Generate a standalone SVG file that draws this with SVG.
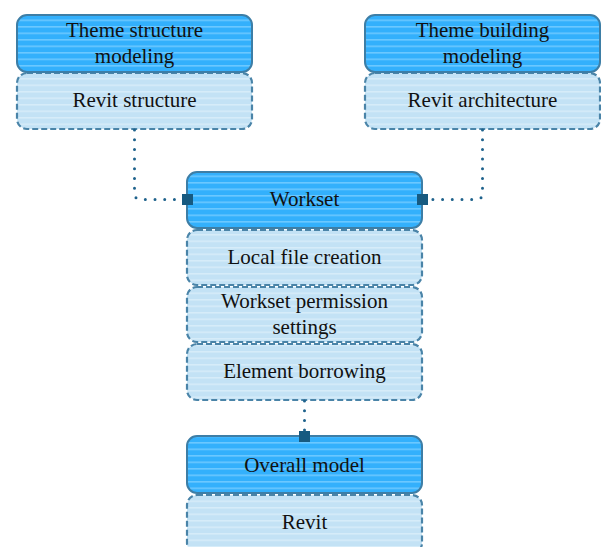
<svg xmlns="http://www.w3.org/2000/svg" width="601" height="547" viewBox="0 0 601 547">
<defs>
<pattern id="ph" width="10" height="6.5" patternUnits="userSpaceOnUse">
<rect width="10" height="6.5" fill="#33b0fc"/>
<rect y="0" width="10" height="1.6" fill="#6cc8ff"/>
</pattern>
<pattern id="ps" width="10" height="6.5" patternUnits="userSpaceOnUse">
<rect width="10" height="6.5" fill="#c3e2f5"/>
<rect y="0" width="10" height="1.6" fill="#d6ecf9"/>
</pattern>
<marker id="sq" markerWidth="11" markerHeight="11" refX="5.5" refY="5.5" markerUnits="userSpaceOnUse">
<rect width="11" height="11" fill="#175a80"/>
</marker>
</defs>
<style>
.h{fill:url(#ph);stroke:#3d7ea6;stroke-width:2}
.s{fill:url(#ps);stroke:#4a84a8;stroke-width:2.2;stroke-dasharray:6 3}
text{font-family:"Liberation Serif","Times New Roman",serif;font-size:21px;fill:#111;text-anchor:middle}
.c{fill:none;stroke:#1e628c;stroke-width:3;stroke-linecap:round;stroke-dasharray:0 9.7}
</style>
<g id="theme-structure">
<rect class="s" x="17" y="73" width="235" height="56" rx="10"/>
<rect class="h" x="17" y="15" width="235" height="57" rx="10"/>
<text x="134.5" y="37">Theme structure</text>
<text x="134.5" y="63">modeling</text>
<text x="134.5" y="107">Revit structure</text>
</g>
<g id="theme-building">
<rect class="s" x="365" y="73" width="235" height="56" rx="10"/>
<rect class="h" x="365" y="15" width="235" height="57" rx="10"/>
<text x="482.5" y="37">Theme building</text>
<text x="482.5" y="63">modeling</text>
<text x="482.5" y="107">Revit architecture</text>
</g>
<g id="workset">
<rect class="s" x="187" y="344" width="235" height="56" rx="10"/>
<rect class="s" x="187" y="287" width="235" height="55" rx="10"/>
<rect class="s" x="187" y="230" width="235" height="55" rx="10"/>
<rect class="h" x="187" y="172" width="235" height="56" rx="10"/>
<text x="304.5" y="206">Workset</text>
<text x="304.5" y="264">Local file creation</text>
<text x="304.5" y="308">Workset permission</text>
<text x="304.5" y="334">settings</text>
<text x="304.5" y="378">Element borrowing</text>
</g>
<g id="overall-model">
<rect class="s" x="187" y="495" width="235" height="58" rx="10"/>
<rect class="h" x="187" y="436" width="235" height="57" rx="10"/>
<text x="304.5" y="472">Overall model</text>
<text x="304.5" y="529">Revit</text>
</g>
<g id="connectors">
<path class="c" d="M134.5 130 V193 Q134.5 199.5 141 199.5 H187.5" marker-end="url(#sq)"/>
<path class="c" d="M482.5 130 V193 Q482.5 199.5 476 199.5 H422.5" marker-end="url(#sq)"/>
<path class="c" d="M304.5 401 V436.5" marker-end="url(#sq)"/>
</g>
</svg>
